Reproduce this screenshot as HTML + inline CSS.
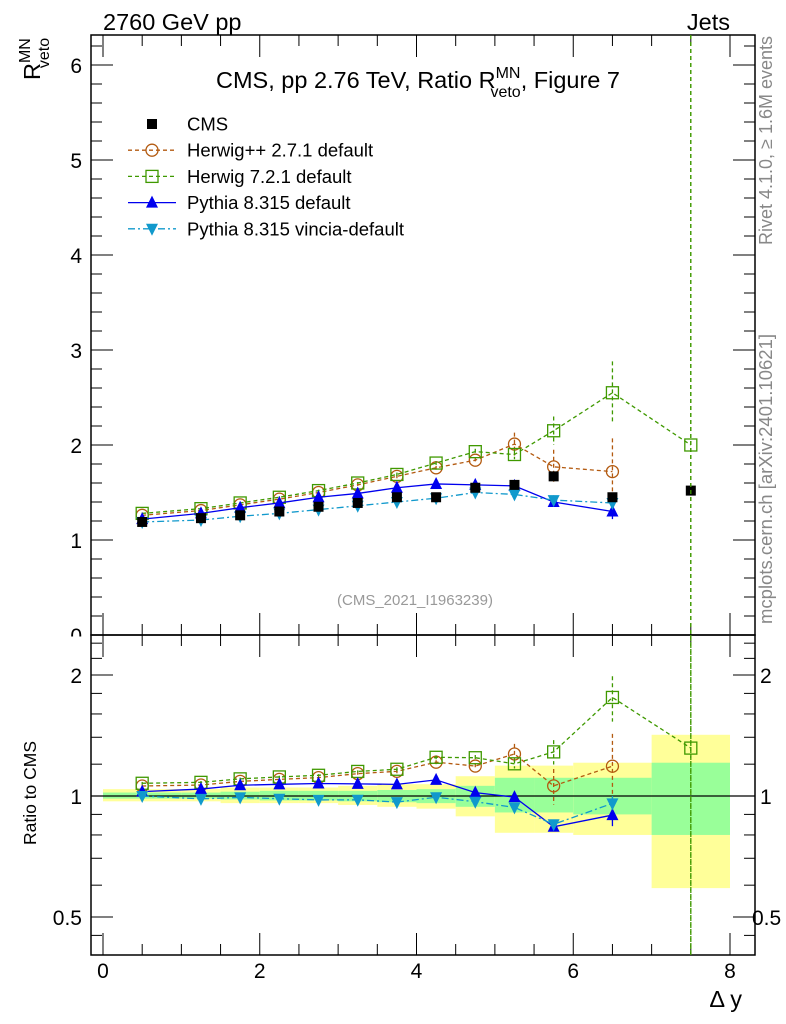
<!DOCTYPE html>
<html><head><meta charset="utf-8"><style>
body{margin:0;background:#fff}
svg{display:block;font-family:"Liberation Sans",sans-serif}
</style></head><body>
<svg id="chart" width="786" height="1024" viewBox="0 0 786 1024" xmlns="http://www.w3.org/2000/svg">
<g id="bands"></g>
<g id="axes"></g>
<g id="series"></g>
<text x="103" y="30" font-size="23.5">2760 GeV pp</text>
<text x="730" y="30" font-size="23.5" text-anchor="end">Jets</text>
<text x="418" y="88" font-size="23.5" text-anchor="middle">CMS, pp 2.76 TeV, Ratio R<tspan font-size="16" dy="-10">MN</tspan><tspan font-size="16" dx="-30" dy="19">veto</tspan><tspan dy="-9">, Figure 7</tspan></text>
<text transform="translate(40,80) rotate(-90)" font-size="23.5">R<tspan font-size="16" dy="-10">MN</tspan><tspan font-size="16" dx="-30" dy="19">veto</tspan></text>
<text transform="translate(36,793) rotate(-90)" font-size="17.5" text-anchor="middle">Ratio to CMS</text>
<text x="742" y="1007" font-size="23.5" text-anchor="end">Δ y</text>
<text x="415" y="605" font-size="15" fill="#999" text-anchor="middle">(CMS_2021_I1963239)</text>
<text transform="translate(772,36) rotate(-90)" font-size="18" fill="#888" text-anchor="end">Rivet 4.1.0, ≥ 1.6M events</text>
<text transform="translate(772,334) rotate(-90)" font-size="18.5" fill="#888" text-anchor="end">mcplots.cern.ch [arXiv:2401.10621]</text>
<g id="legend"></g>
</svg>
<script>
const xs=[0.5,1.25,1.75,2.25,2.75,3.25,3.75,4.25,4.75,5.25,5.75,6.5,7.5];
const cms=[1.19,1.23,1.26,1.30,1.35,1.39,1.45,1.45,1.55,1.58,1.67,1.45,1.52];
const herwigpp=[1.26,1.31,1.37,1.43,1.50,1.58,1.67,1.76,1.84,2.01,1.77,1.72];
const herwigppErr=[0.01,0.01,0.01,0.01,0.01,0.01,0.02,0.02,0.03,0.12,0.18,0.35];
const herwig7=[1.28,1.33,1.39,1.45,1.52,1.60,1.69,1.81,1.93,1.90,2.15,2.55,2.00];
const herwig7Err=[0.01,0.01,0.01,0.01,0.01,0.01,0.02,0.02,0.03,0.05,0.15,0.33,5];
const pythia=[1.22,1.28,1.34,1.39,1.45,1.49,1.55,1.59,1.58,1.57,1.40,1.30];
const pythiaErr=[0.01,0.01,0.01,0.01,0.01,0.01,0.01,0.01,0.01,0.02,0.03,0.08];
const vincia=[1.19,1.21,1.25,1.28,1.32,1.36,1.40,1.44,1.50,1.48,1.42,1.39];
const vinciaErr=[0.01,0.01,0.01,0.01,0.01,0.01,0.01,0.01,0.01,0.02,0.03,0.06];
const binEdges=[0,1,1.5,2,2.5,3,3.5,4,4.5,5,5.5,6,7,8];
const yellowUp=[1.04,1.04,1.05,1.05,1.05,1.06,1.07,1.07,1.12,1.19,1.19,1.21,1.42];
const yellowDn=[0.97,0.97,0.96,0.96,0.96,0.95,0.94,0.93,0.89,0.81,0.81,0.80,0.59];
const greenUp=[1.02,1.02,1.025,1.03,1.03,1.03,1.035,1.04,1.06,1.11,1.11,1.11,1.21];
const greenDn=[0.985,0.985,0.98,0.975,0.975,0.97,0.965,0.96,0.94,0.91,0.91,0.90,0.80];
const mainTicks=[0,1,2,3,4,5,6];
const ratioTicks=[0.5,1,2];
const xTicks=[0,2,4,6,8];

const NS="http://www.w3.org/2000/svg";
const L=91,R=755,T=35,M=635,B=955;
const X=v=>103+v*78.375;
const Y=v=>635-v*95;
const YR=r=>796-121*Math.log2(r);
function mk(tag,attrs,parent){const e=document.createElementNS(NS,tag);for(const k in attrs)e.setAttribute(k,attrs[k]);parent.appendChild(e);return e;}
const axes=document.getElementById('axes'),bands=document.getElementById('bands'),ser=document.getElementById('series'),leg=document.getElementById('legend');

for(let i=0;i<binEdges.length-1;i++){
  const x0=X(binEdges[i]),x1=X(binEdges[i+1]);
  let r=mk('rect',{x:x0,y:YR(yellowUp[i]),width:x1-x0,height:YR(yellowDn[i])-YR(yellowUp[i]),fill:'#ffff99'},bands);
  
  
  r=mk('rect',{x:x0,y:YR(greenUp[i]),width:x1-x0,height:YR(greenDn[i])-YR(greenUp[i]),fill:'#99ff99'},bands);
  
  
}
mainTicks.forEach(v=>{const t=mk('text',{x:82,y:Y(v)+8,'font-size':21,'text-anchor':'end'},axes);t.textContent=v;
 
 });
mk('rect',{x:55,y:M+1.5,width:34,height:20,fill:'#fff'},axes);
let f=mk('rect',{x:L,y:T,width:R-L,height:M-T,fill:'none',stroke:'#000','stroke-width':1.5},axes);


f=mk('rect',{x:L,y:M,width:R-L,height:B-M,fill:'none',stroke:'#000','stroke-width':1.5},axes);


mk('line',{x1:L,x2:R,y1:YR(1),y2:YR(1),stroke:'#000','stroke-width':1.3},axes);
for(let v=0;v<=6.3;v=Math.round((v+0.2)*10)/10){
  const maj=Math.abs(v-Math.round(v))<1e-6, len=maj?22:11;
  mk('line',{x1:L,x2:L+len,y1:Y(v),y2:Y(v),stroke:'#000'},axes);
  mk('line',{x1:R,x2:R-len,y1:Y(v),y2:Y(v),stroke:'#000'},axes);
}
[0.45,0.5,0.6,0.7,0.8,0.9,1,1.2,1.4,1.6,1.8,2,2.2,2.4].forEach(v=>{
  const maj=ratioTicks.includes(v),len=maj?22:11;
  mk('line',{x1:L,x2:L+len,y1:YR(v),y2:YR(v),stroke:'#000'},axes);
  mk('line',{x1:R,x2:R-len,y1:YR(v),y2:YR(v),stroke:'#000'},axes);
});
ratioTicks.forEach(v=>{let t=mk('text',{x:82,y:YR(v)+8,'font-size':21,'text-anchor':'end'},axes);t.textContent=v;
 
 
 t=mk('text',{x:v<1?752:760,y:YR(v)+8,'font-size':21},axes);t.textContent=v;
 
 });
for(let v=0;v<=8;v+=0.5){
  const maj=v%2===0,len=maj?22:11;
  [[T,1],[M,-1],[M,1],[B,-1]].forEach(([y0,d])=>mk('line',{x1:X(v),x2:X(v),y1:y0,y2:y0+d*len,stroke:'#000'},axes));
}
xTicks.forEach(v=>{const t=mk('text',{x:X(v),y:978,'font-size':21,'text-anchor':'middle'},axes);t.textContent=v;
 
 });

function marker(g,type,x,y,c){
  if(type==='sq')mk('rect',{x:x-5,y:y-5,width:10,height:10,fill:'#000'},g);
  else if(type==='circ')mk('circle',{cx:x,cy:y,r:6,fill:'none',stroke:c,'stroke-width':1.3},g);
  else if(type==='osq')mk('rect',{x:x-6,y:y-6,width:12,height:12,fill:'none',stroke:c,'stroke-width':1.3},g);
  else if(type==='tu')mk('polygon',{points:`${x},${y-7} ${x-6},${y+5} ${x+6},${y+5}`,fill:c},g);
  else if(type==='td')mk('polygon',{points:`${x},${y+7} ${x-6},${y-5} ${x+6},${y-5}`,fill:c},g);
}
function clipY(y,lo,hi){return Math.max(lo,Math.min(hi,y));}
const defs=[
 {name:'herwigpp',vals:herwigpp,err:herwigppErr,c:'#b35a10',m:'circ',dash:'4,3'},
 {name:'herwig7',vals:herwig7,err:herwig7Err,c:'#3f9900',m:'osq',dash:'4,3'},
 {name:'pythia',vals:pythia,err:pythiaErr,c:'#0000ee',m:'tu',dash:''},
 {name:'vincia',vals:vincia,err:vinciaErr,c:'#1199cc',m:'td',dash:'7,3,2,3'}];
defs.forEach(d=>{
  const g=mk('g',{},ser);
  
  
  const pm=d.vals.map((v,i)=>X(xs[i])+','+Y(v)).join(' ');
  mk('polyline',{points:pm,fill:'none',stroke:d.c,'stroke-width':1.3,'stroke-dasharray':d.dash},g);
  const pr=d.vals.map((v,i)=>X(xs[i])+','+YR(v/cms[i])).join(' ');
  mk('polyline',{points:pr,fill:'none',stroke:d.c,'stroke-width':1.3,'stroke-dasharray':d.dash},g);
  d.vals.forEach((v,i)=>{
    const x=X(xs[i]),e=d.err[i];
    mk('line',{x1:x,x2:x,y1:clipY(Y(v+e),T,M),y2:clipY(Y(v-e),T,M),stroke:d.c,'stroke-width':1.3,'stroke-dasharray':d.dash},g);
    const r=v/cms[i],re=e/cms[i];
    mk('line',{x1:x,x2:x,y1:clipY(YR(r+re),M,B),y2:clipY(YR(Math.max(r-re,0.01)),M,B),stroke:d.c,'stroke-width':1.3,'stroke-dasharray':d.dash},g);
    marker(g,d.m,x,Y(v),d.c);
    marker(g,d.m,x,YR(r),d.c);
  });
});
const gc=mk('g',{},ser);


cms.forEach((v,i)=>marker(gc,'sq',X(xs[i]),Y(v),'#000'));

const labels=['CMS','Herwig++ 2.7.1 default','Herwig 7.2.1 default','Pythia 8.315 default','Pythia 8.315 vincia-default'];
const lc=['#000','#b35a10','#3f9900','#0000ee','#1199cc'],lm=['sq','circ','osq','tu','td'],ld=['','4,3','4,3','','7,3,2,3'];
labels.forEach((s,i)=>{
  const y=124+i*26.2;
  const g=mk('g',{},leg);
  
  
  if(i>0)mk('line',{x1:128,x2:176,y1:y,y2:y,stroke:lc[i],'stroke-width':1.3,'stroke-dasharray':ld[i]},g);
  marker(g,lm[i],152,y,lc[i]);
  const t=mk('text',{x:187,y:y+6.5,'font-size':18.5},g);t.textContent=s;
});
const vl=mk('line',{x1:X(7.5),x2:X(7.5),y1:T,y2:B,stroke:'#3f9900','stroke-width':1.3,'stroke-dasharray':'4,3'},ser);


</script>
</body></html>
